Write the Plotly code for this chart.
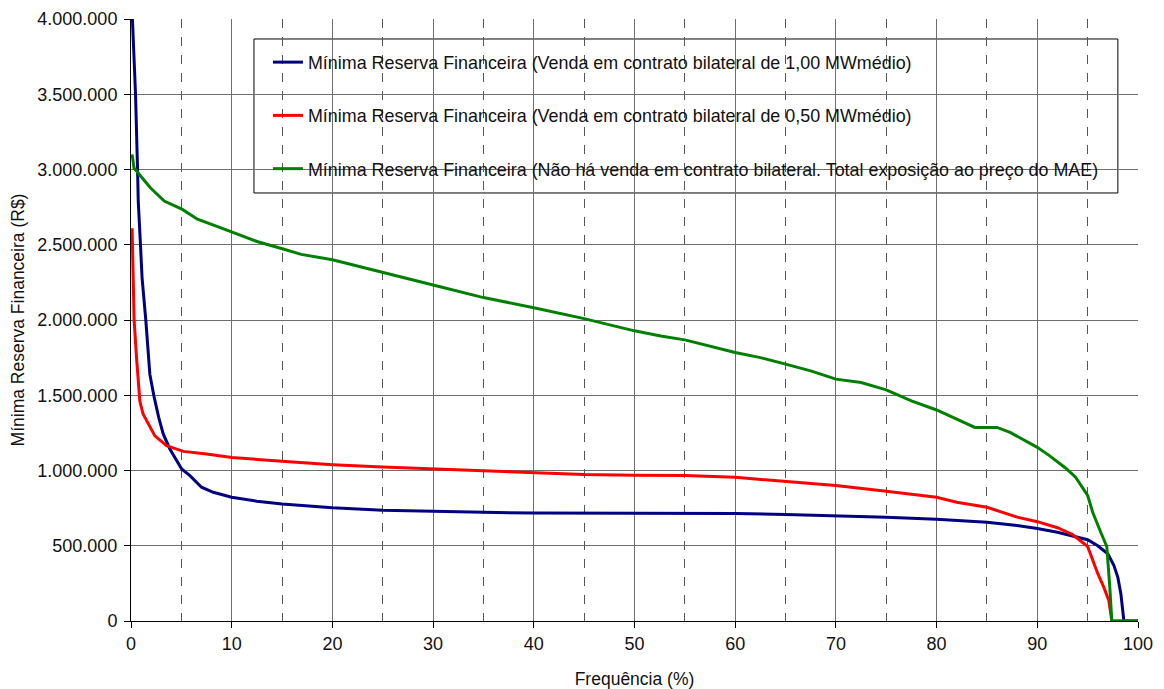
import plotly.graph_objects as go

# Data
blue_x = [0.11, 0.45, 0.65, 0.72, 0.94, 1.10, 1.47, 1.87, 2.26, 2.75, 3.2, 3.45, 3.86, 5.03, 5.85, 7.0, 8.17,
          10, 12.5, 15, 20, 25, 30, 35, 40, 45, 50, 55, 60, 65, 70, 75, 80, 83, 85, 88, 90, 92, 94, 95, 96,
          97, 97.6, 98.0, 98.3, 98.5, 98.6, 100]
blue_y = [4050000, 3500000, 3000000, 2790000, 2500000, 2280000, 2000000, 1640000, 1500000, 1353000, 1243000,
          1200000, 1143000, 1010000, 966000, 889000, 855000, 822000, 796000, 778000, 752000, 736000, 727000,
          722000, 717000, 716000, 716000, 716000, 715000, 708000, 699000, 690000, 676000, 663000, 656000,
          635000, 615000, 590000, 557000, 540000, 500000, 447000, 370000, 290000, 180000, 70000, 0, 0]

red_x = [0.11, 0.15, 0.21, 0.31, 0.55, 0.85, 0.88, 1.2, 1.7, 2.37, 3.53, 5.2, 7.5, 10, 15, 20, 25, 30, 35, 40,
         45, 50, 55, 60, 65, 70, 75, 80, 82, 85, 88, 90, 92, 93.5, 95, 95.5, 96, 96.6, 97.1, 97.4, 100]
red_y = [2610000, 2500000, 2240000, 2000000, 1750000, 1500000, 1460000, 1375000, 1310000, 1230000, 1165000,
         1127000, 1110000, 1087000, 1061000, 1039000, 1023000, 1010000, 999000, 984000, 973000, 968000,
         966000, 955000, 928000, 900000, 862000, 822000, 789000, 756000, 690000, 660000, 620000, 575000,
         495000, 400000, 316000, 225000, 137000, 0, 0]

green_x = [0.11, 0.3, 1.9, 3.3, 5.1, 6.6, 8.6, 10.2, 12.6, 15.2, 16.9, 20, 25, 30, 35, 40, 45, 50, 52.6, 55,
           60, 62.5, 65, 67.5, 70, 72.5, 75, 77.5, 80, 82, 83.8, 86, 87.3, 90, 91.2, 92.8, 93.8, 95, 95.5,
           96.3, 96.9, 97.2, 97.4, 100]
green_y = [3100000, 3010000, 2880000, 2790000, 2735000, 2670000, 2620000, 2580000, 2520000, 2470000, 2436000,
           2400000, 2319000, 2233000, 2149000, 2082000, 2009000, 1928000, 1894000, 1868000, 1784000, 1750000,
           1707000, 1662000, 1607000, 1585000, 1536000, 1463000, 1402000, 1340000, 1286000, 1286000, 1253000,
           1154000, 1099000, 1017000, 955000, 834000, 723000, 590000, 495000, 225000, 0, 0]

names = [
    "Mínima Reserva Financeira (Venda em contrato bilateral de 1,00 MWmédio)",
    "Mínima Reserva Financeira (Venda em contrato bilateral de 0,50 MWmédio)",
    "Mínima Reserva Financeira (Não há venda em contrato bilateral. Total exposição ao preço do MAE)",
]
colors = ["#000080", "#FF0000", "#008000"]

y_ticks = [0, 500000, 1000000, 1500000, 2000000, 2500000, 3000000, 3500000, 4000000]
x_ticks = [0, 10, 20, 30, 40, 50, 60, 70, 80, 90, 100]

fig = go.Figure()
for i, (xs, ys) in enumerate([(blue_x, blue_y), (red_x, red_y), (green_x, green_y)]):
    fig.add_trace(go.Scatter(x=xs, y=ys, mode="lines", name=names[i], legendgroup=f"g{i}",
                             line=dict(color=colors[i], width=3)))

# legend frame (decoration, in paper coordinates)
fig.add_shape(type="rect", xref="paper", yref="paper", x0=0.1221, x1=0.980, y0=0.711, y1=0.9668,
              line=dict(color="black", width=1), fillcolor="white", layer="between")

font_family = "Liberation Sans, Arial, sans-serif"
fig.update_layout(
    width=1148, height=681,
    margin=dict(l=123, r=18, t=11, b=68),
    paper_bgcolor="white", plot_bgcolor="white",
    separators=",.",
    font=dict(family=font_family, size=18, color="#111111"),
    showlegend=True,
    legend=dict(x=0.136, y=0.9585, xanchor="left", yanchor="top",
                bgcolor="rgba(0,0,0,0)", borderwidth=0,
                font=dict(size=17.9, family=font_family, color="#111111"),
                tracegroupgap=27, traceorder="grouped", itemwidth=30),
    xaxis=dict(range=[0, 100], tickvals=x_ticks, showgrid=True, gridcolor="#6e6e6e", gridwidth=1,
               showline=True, linecolor="black", linewidth=1, ticks="outside", ticklen=6,
               tickcolor="black", zeroline=False, automargin=False, ticklabeloverflow="allow",
               minor=dict(dtick=5, tick0=0, showgrid=True, gridcolor="#555555", griddash="dash",
                          gridwidth=1, ticks=""),
               title=dict(text="Frequência (%)", font=dict(size=17.5), standoff=20)),
    yaxis=dict(range=[0, 4000000], tickvals=y_ticks, tickformat=",.0f", showgrid=True,
               gridcolor="#6e6e6e", gridwidth=1, showline=True, linecolor="black", linewidth=1,
               ticks="outside", ticklen=6, tickcolor="black", zeroline=False, automargin=False,
               ticklabeloverflow="allow", ticklabelstandoff=3,
               title=dict(text="Mínima Reserva Financeira (R$)", font=dict(size=17.5))),
)

fig.write_html("out.html")
